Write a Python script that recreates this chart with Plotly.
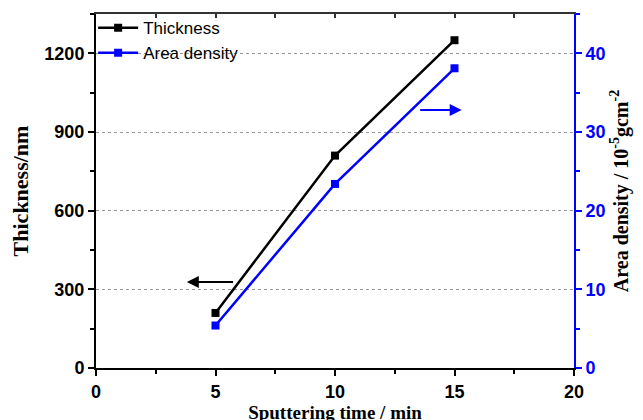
import plotly.graph_objects as go

time_min = [5, 10, 15]
thickness_nm = [210, 810, 1250]
area_density = [5.4, 23.4, 38.1]

x_ticks = [0, 5, 10, 15, 20]
left_ticks = [0, 300, 600, 900, 1200]
right_ticks = [0, 10, 20, 30, 40]

BLUE = "#0000ff"
SERIF = "Liberation Serif, Times New Roman"
SANS = "Liberation Sans, Arial"
tf_black = dict(family=SANS, size=18, color="black")
tf_blue = dict(family=SANS, size=18, color=BLUE)

def bold(vals):
    return ["<b>%s</b>" % v for v in vals]

fig = go.Figure()
fig.add_trace(go.Scatter(x=time_min, y=thickness_nm, name="Thickness", mode="lines+markers",
                         line=dict(color="black", width=2.5),
                         marker=dict(symbol="square", size=8, color="black")))
fig.add_trace(go.Scatter(x=time_min, y=area_density, name="Area density", mode="lines+markers",
                         yaxis="y2", line=dict(color=BLUE, width=2.5),
                         marker=dict(symbol="square", size=8, color=BLUE)))
fig.add_trace(go.Scatter(x=[0], y=[0], xaxis="x2", mode="markers", marker=dict(opacity=0),
                         showlegend=False, hoverinfo="skip"))

# page body has an 8px margin, so the figure is offset; compensate in margins
fig.update_layout(
    width=643, height=420,
    margin=dict(l=88, r=77, t=6, b=60, autoexpand=False),
    plot_bgcolor="white", paper_bgcolor="white",
    showlegend=True,
    legend=dict(x=-0.006, y=1.011, xanchor="left", yanchor="top", bgcolor="rgba(0,0,0,0)",
                font=dict(family=SANS, size=17, color="black"),
                tracegroupgap=0, itemwidth=40),
    xaxis=dict(range=[0, 20], tickvals=x_ticks, ticktext=bold(x_ticks), ticks="outside",
               ticklen=6, tickwidth=2, automargin=False,
               tickcolor="black", showline=True, linecolor="black", linewidth=2,
               showgrid=False, zeroline=False,
               minor=dict(dtick=2.5, ticks="outside", ticklen=4, tickwidth=1.5, tickcolor="black"),
               tickfont=tf_black,
               title=dict(text="<b>Sputtering time / min</b>",
                          font=dict(family=SERIF, size=19, color="black"), standoff=0)),
    xaxis2=dict(range=[0, 20], overlaying="x", side="top", anchor="y", dtick=2.5,
                ticks="inside", ticklen=4, tickwidth=1.5, tickcolor="#333", automargin=False,
                showticklabels=False, showline=True, linecolor="#333", linewidth=2,
                showgrid=False, zeroline=False),
    yaxis=dict(range=[0, 1350], tickvals=left_ticks, ticktext=bold(left_ticks), ticks="outside",
               ticklen=6, tickwidth=2, automargin=False,
               tickcolor="black", showline=True, linecolor="black", linewidth=2,
               showgrid=True, gridcolor="#999", griddash="dot", gridwidth=1, zeroline=False,
               minor=dict(dtick=150, ticks="outside", ticklen=4, tickwidth=1.5, tickcolor="black", showgrid=False),
               tickfont=tf_black,
               title=dict(text="<b>Thickness/nm</b>",
                          font=dict(family=SERIF, size=22, color="black"), standoff=16)),
    yaxis2=dict(range=[0, 45], tickvals=right_ticks, ticktext=bold(right_ticks), overlaying="y",
                side="right", anchor="x", automargin=False,
                ticks="outside", ticklen=6, tickwidth=2, tickcolor=BLUE,
                showline=True, linecolor=BLUE, linewidth=2, showgrid=False, zeroline=False,
                minor=dict(dtick=5, ticks="outside", ticklen=4, tickwidth=1.5, tickcolor=BLUE),
                tickfont=tf_blue,
                title=dict(text="<b>Area density / 10<sup>-5</sup>gcm<sup>-2</sup></b>",
                           font=dict(family=SERIF, size=20, color="black"), standoff=9)),
)

fig.add_annotation(x=3.8, y=328, ax=5.8, ay=328, xref="x", yref="y", axref="x", ayref="y",
                   text="", showarrow=True, arrowhead=2, arrowsize=1.2, arrowwidth=2, arrowcolor="black")
fig.add_annotation(x=15.3, y=32.8, ax=13.5, ay=32.8, xref="x", yref="y2", axref="x", ayref="y2",
                   text="", showarrow=True, arrowhead=2, arrowsize=1.2, arrowwidth=2, arrowcolor=BLUE)

fig.write_html("out.html")
